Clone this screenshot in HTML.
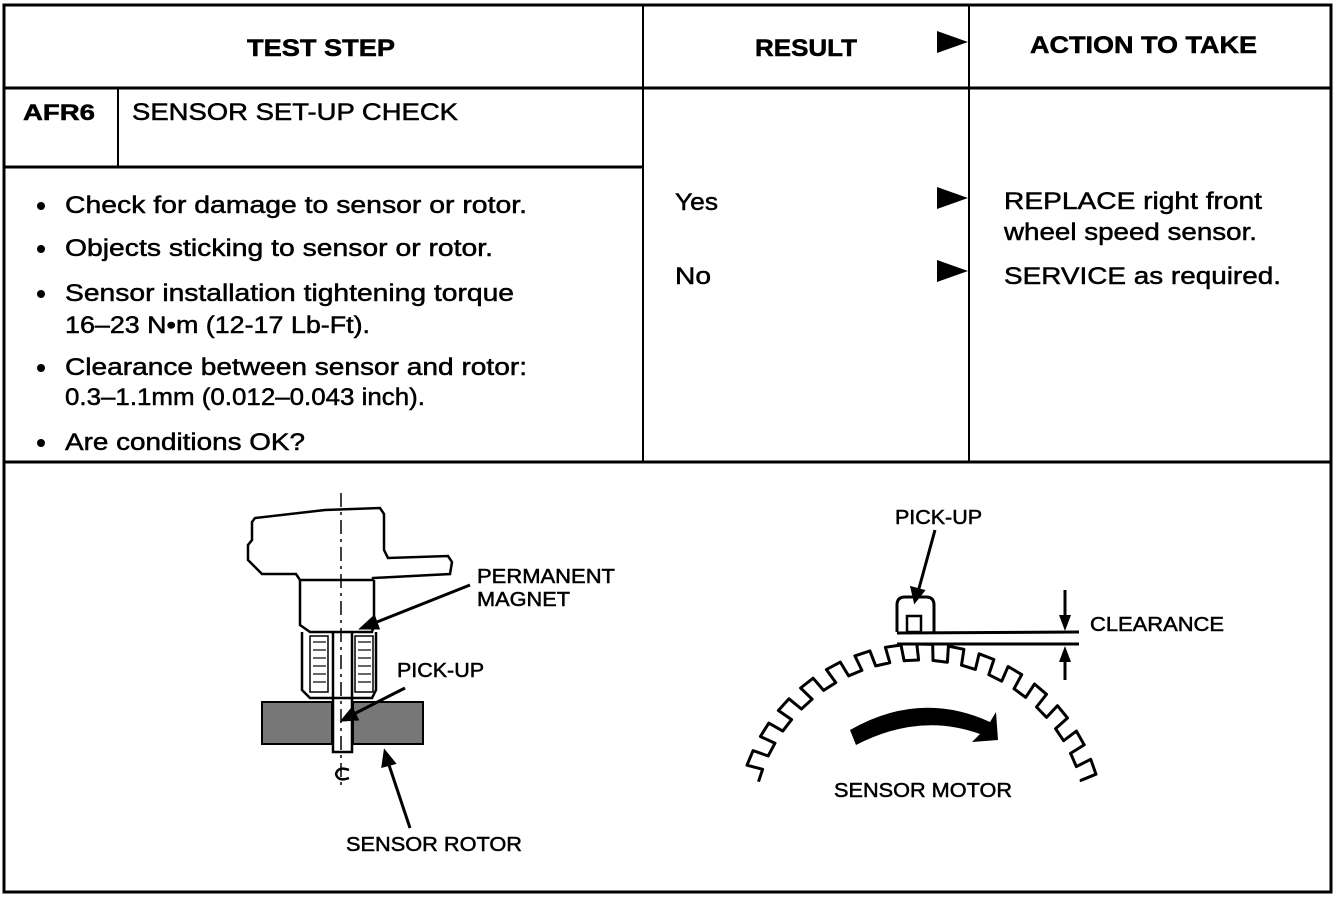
<!DOCTYPE html>
<html><head><meta charset="utf-8"><style>
html,body{margin:0;padding:0;background:#fff;}
svg{display:block;}
text{font-family:"Liberation Sans",Arial,sans-serif;fill:#000;stroke:#000;stroke-width:0.5;}
</style></head><body>
<svg id="s" width="1344" height="910" viewBox="0 0 1344 910" xmlns="http://www.w3.org/2000/svg">
<g stroke="#000" fill="none">
<rect x="4" y="5" width="1327" height="887" stroke-width="3"/>
<line x1="643" y1="5" x2="643" y2="462" stroke-width="2"/>
<line x1="969" y1="5" x2="969" y2="462" stroke-width="2"/>
<line x1="4" y1="88" x2="1331" y2="88" stroke-width="3"/>
<line x1="4" y1="462" x2="1331" y2="462" stroke-width="3"/>
<line x1="4" y1="167" x2="643" y2="167" stroke-width="3"/>
<line x1="118" y1="88" x2="118" y2="167" stroke-width="2"/>
</g>
<g font-weight="bold" font-size="24">
<text x="247" y="56" textLength="148" lengthAdjust="spacingAndGlyphs">TEST STEP</text>
<text x="755" y="56" textLength="102" lengthAdjust="spacingAndGlyphs">RESULT</text>
<text x="1030" y="53" textLength="227" lengthAdjust="spacingAndGlyphs">ACTION TO TAKE</text>
<text x="23" y="120" textLength="72" lengthAdjust="spacingAndGlyphs" font-size="22">AFR6</text>
</g>
<g font-size="24">
<text x="132" y="120" textLength="326" lengthAdjust="spacingAndGlyphs">SENSOR SET-UP CHECK</text>
<text x="65" y="213" textLength="462" lengthAdjust="spacingAndGlyphs">Check for damage to sensor or rotor.</text>
<text x="65" y="256" textLength="428" lengthAdjust="spacingAndGlyphs">Objects sticking to sensor or rotor.</text>
<text x="65" y="301" textLength="449" lengthAdjust="spacingAndGlyphs">Sensor installation tightening torque</text>
<text x="65" y="333" textLength="305" lengthAdjust="spacingAndGlyphs">16–23 N•m (12-17 Lb-Ft).</text>
<text x="65" y="375" textLength="462" lengthAdjust="spacingAndGlyphs">Clearance between sensor and rotor:</text>
<text x="65" y="405" textLength="360" lengthAdjust="spacingAndGlyphs">0.3–1.1mm (0.012–0.043 inch).</text>
<text x="65" y="450" textLength="240" lengthAdjust="spacingAndGlyphs">Are conditions OK?</text>
<text x="675" y="210" textLength="43" lengthAdjust="spacingAndGlyphs">Yes</text>
<text x="675" y="284" textLength="36" lengthAdjust="spacingAndGlyphs">No</text>
<text x="1004" y="209" textLength="258" lengthAdjust="spacingAndGlyphs">REPLACE right front</text>
<text x="1004" y="240" textLength="253" lengthAdjust="spacingAndGlyphs">wheel speed sensor.</text>
<text x="1004" y="284" textLength="277" lengthAdjust="spacingAndGlyphs">SERVICE as required.</text>
</g>
<g fill="#000">
<circle cx="41" cy="206" r="4"/><circle cx="41" cy="249" r="4"/><circle cx="41" cy="294" r="4"/>
<circle cx="41" cy="368" r="4"/><circle cx="41" cy="443" r="4"/>
<polygon points="937,31 968,42 937,53"/>
<polygon points="937,187 968,198 937,209"/>
<polygon points="937,260 968,271 937,282"/>
</g>
<g font-size="20">
<text x="477" y="583" textLength="138" lengthAdjust="spacingAndGlyphs">PERMANENT</text>
<text x="477" y="606" textLength="93" lengthAdjust="spacingAndGlyphs">MAGNET</text>
<text x="397" y="677" textLength="87" lengthAdjust="spacingAndGlyphs">PICK-UP</text>
<text x="346" y="851" textLength="176" lengthAdjust="spacingAndGlyphs">SENSOR ROTOR</text>
<text x="895" y="524" textLength="87" lengthAdjust="spacingAndGlyphs">PICK-UP</text>
<text x="1090" y="631" textLength="134" lengthAdjust="spacingAndGlyphs">CLEARANCE</text>
<text x="834" y="797" textLength="178" lengthAdjust="spacingAndGlyphs">SENSOR MOTOR</text>
</g>
<g stroke="#000" stroke-width="2.5" fill="none">
<line x1="341" y1="493" x2="341" y2="790" stroke-dasharray="14,5,3,5" stroke-width="1.5"/>
<path d="M252,522 L255,518 L325,510 L380,508 L384,514 L384,550 L388,558 L448,556 L452,562 L450,574 L373,578 L373,580 L300,580 L296,574 L262,574 L248,560 L248,545 L252,540 Z"/>
<path d="M300,580 L300,625 L310,632 L372,632 L374,625 L374,580"/>
<path d="M302,632 L302,690 L310,698 L372,698 L376,690 L376,632"/>
<rect x="310" y="636" width="18" height="56" stroke-width="1.5"/>
<rect x="355" y="636" width="18" height="56" stroke-width="1.5"/>
<path d="M333,632 L333,752 L352,752 L352,632"/>
</g>
<g stroke="#000" stroke-width="1.2">
<line x1="313" y1="642" x2="326" y2="642"/><line x1="313" y1="650" x2="326" y2="650"/><line x1="313" y1="658" x2="326" y2="658"/><line x1="313" y1="666" x2="326" y2="666"/><line x1="313" y1="674" x2="326" y2="674"/><line x1="313" y1="682" x2="326" y2="682"/>
<line x1="358" y1="642" x2="371" y2="642"/><line x1="358" y1="650" x2="371" y2="650"/><line x1="358" y1="658" x2="371" y2="658"/><line x1="358" y1="666" x2="371" y2="666"/><line x1="358" y1="674" x2="371" y2="674"/><line x1="358" y1="682" x2="371" y2="682"/>
</g>
<rect x="262" y="702" width="70" height="42" fill="#777" stroke="#000" stroke-width="2"/>
<rect x="353" y="702" width="70" height="42" fill="#777" stroke="#000" stroke-width="2"/>
<path d="M349,770 Q338,766 336,774 Q338,782 349,778" stroke="#000" stroke-width="2.5" fill="none"/>
<g stroke="#000" stroke-width="3" fill="#000">
<line x1="470" y1="585" x2="372" y2="624"/><polygon points="362,628 374,617 378,628"/>
<line x1="405" y1="688" x2="352" y2="715"/><polygon points="343,720 352,709 357,719"/>
<line x1="410" y1="828" x2="388" y2="762"/><polygon points="385,752 394,763 383,766"/>
<line x1="935" y1="530" x2="918" y2="592"/><polygon points="915,601 912,588 923,591"/>
</g>
<g stroke="#000" stroke-width="3" fill="none">
<path d="M897,632 L897,605 Q897,597 905,597 L926,597 Q934,597 934,605 L934,632"/>
<rect x="907" y="616" width="14" height="16" stroke-width="2.5"/>
<line x1="897" y1="633" x2="1079" y2="632"/>
<line x1="897" y1="644" x2="1079" y2="644"/>
<line x1="1065" y1="590" x2="1065" y2="620"/>
<line x1="1065" y1="656" x2="1065" y2="680"/>
</g>
<g fill="#000">
<polygon points="1059,615 1071,615 1065,631"/>
<polygon points="1059,662 1071,662 1065,646"/>
<path d="M850,730 Q920,690 990,722 L996,712 L998,740 L972,742 L980,734 Q920,712 856,745 Z"/>
</g>
<path id="gear" stroke="#000" stroke-width="3" fill="none" stroke-linejoin="round"/>
</svg>
<script>
(function(){
var cx=920,cy=828,Ro=184,Ri=168;
var a0=164*Math.PI/180,a1=16*Math.PI/180,n=15;
var step=(a0-a1)/n;var d="";
function P(r,a){return (cx+r*Math.cos(a)).toFixed(1)+","+(cy-r*Math.sin(a)).toFixed(1);}
for(var i=0;i<n;i++){
 var a=a0-i*step, m=a-step*0.45, e=a-step*0.95;
 d+=(i==0?"M":"L")+P(Ri,a)+" L"+P(Ri,m)+" L"+P(Ro,m+step*0.05)+" L"+P(Ro,e+step*0.05)+" L"+P(Ri,e)+" L"+P(Ri,a-step)+" ";
}
document.getElementById("gear").setAttribute("d",d);
})();
</script>
</body></html>
